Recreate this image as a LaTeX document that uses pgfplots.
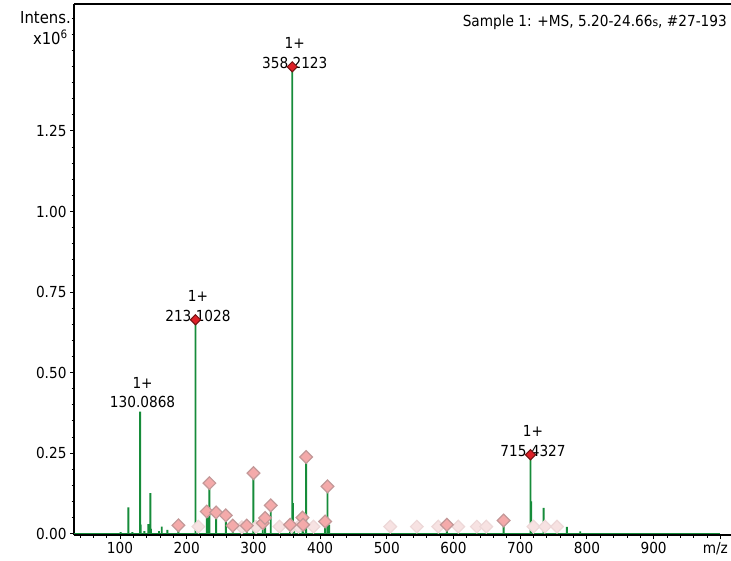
\documentclass[border=0pt]{standalone}
\usepackage{fontspec}
\setmainfont{DejaVu Sans Condensed}
\usepackage{pgfplots}
\pgfplotsset{compat=1.18}
\definecolor{pk}{RGB}{22,140,58}
\definecolor{pinkfill}{RGB}{244,170,170}
\definecolor{pinkdraw}{RGB}{195,152,152}
\definecolor{palefill}{RGB}{247,226,226}
\definecolor{paledraw}{RGB}{237,216,216}
\definecolor{redfill}{RGB}{222,32,40}
\definecolor{reddraw}{RGB}{115,20,20}
\newcommand{\fs}{\fontsize{15.2}{18}\selectfont}
\newcommand{\fl}{\fontsize{16.5}{19}\selectfont}
\begin{document}
\begin{tikzpicture}[x=1pt,y=1pt]
\begin{axis}[
  at={(74pt,25pt)}, anchor=south west,
  scale only axis, width=657pt, height=531pt,
  xmin=31, xmax=1016, ymin=-0.004, ymax=1.644,
  axis x line=bottom, axis y line=left,
  x axis line style={-, line width=1.2pt},
  y axis line style={-, line width=1.2pt},
  tick align=outside,
  major tick length=4pt, minor tick length=2.5pt,
  every tick/.style={black, line width=0.9pt},
  xtick={100,200,...,900},
  xticklabels={100,200,300,400,500,600,700,800,900},
  extra x ticks={1000},
  extra x tick labels={m/z},
  extra x tick style={xticklabel style={xshift=-5pt}},
  minor xtick={40,60,...,1000},
  ytick={0,0.25,0.5,0.75,1,1.25},
  yticklabels={0.00,0.25,0.50,0.75,1.00,1.25},
  minor ytick={0.05,0.1,0.15,0.2,0.3,0.35,0.4,0.45,0.55,0.6,0.65,0.7,0.8,0.85,0.9,0.95,1.05,1.1,1.15,1.2,1.3,1.35,1.4,1.45,1.5,1.55,1.6},
  ticklabel style={font=\fs},
  /pgf/number format/assume math mode=true,
  clip=false,
]
% baseline
\addplot[draw=pk, line width=1.2pt, mark=none] coordinates {(31,0) (1000,0)};
% peaks
\addplot[ybar, bar width=1.9pt, bar shift=0pt, fill=pk, draw=none, mark=none] coordinates {
(101,0.005) (112.5,0.082) (118.5,0.005) (130.09,0.379) (131.1,0.028)
(136.5,0.008) (142.5,0.030) (145.5,0.126) (146.5,0.015) (158.5,0.008)
(162.5,0.022) (171,0.012) (187.5,0.026)
(213.10,0.664) (230,0.069) (232.5,0.050) (234,0.157) (244,0.066)
(258.6,0.057) (269,0.025) (290,0.025) (300,0.188) (314,0.033)
(317.5,0.049) (326,0.088) (355,0.028) (358.21,1.449) (359.3,0.095)
(361,0.020) (373.5,0.050) (374.5,0.028) (379,0.238) (407.5,0.038)
(411,0.147) (413.5,0.028) (590,0.028) (675,0.041)
(715.43,0.245) (716.5,0.100) (735,0.080) (770,0.021) (790,0.007)
};
% peak labels
\node[font=\fs, anchor=base, inner sep=0pt, xshift=2.5pt, yshift=3.7pt] at (axis cs:130.0868,0.379) {130.0868};
\node[font=\fs, anchor=base, inner sep=0pt, xshift=2.5pt, yshift=23.5pt] at (axis cs:130.0868,0.379) {1+};
\node[font=\fs, anchor=base, inner sep=0pt, xshift=2.5pt, yshift=-1.5pt] at (axis cs:213.1028,0.664) {213.1028};
\node[font=\fs, anchor=base, inner sep=0pt, xshift=2.5pt, yshift=18.5pt] at (axis cs:213.1028,0.664) {1+};
\node[font=\fs, anchor=base, inner sep=0pt, xshift=2.5pt, yshift=-1.5pt] at (axis cs:358.2123,1.449) {358.2123};
\node[font=\fs, anchor=base, inner sep=0pt, xshift=2.5pt, yshift=18.5pt] at (axis cs:358.2123,1.449) {1+};
\node[font=\fs, anchor=base, inner sep=0pt, xshift=2.5pt, yshift=-1.5pt] at (axis cs:715.4327,0.245) {715.4327};
\node[font=\fs, anchor=base, inner sep=0pt, xshift=2.5pt, yshift=18.5pt] at (axis cs:715.4327,0.245) {1+};
% pale diamonds
\addplot[only marks, mark=square*, mark size=4.5pt,
  mark options={rotate=45, fill=palefill, draw=paledraw, line width=1.2pt}] coordinates {
(217.5,0.022) (282.6,0.020) (304,0.021) (339,0.022) (357.5,0.022) (367.5,0.022)
(390,0.022) (505,0.022) (545,0.022) (577,0.022) (607,0.022) (635,0.022)
(649,0.022) (720,0.022) (737,0.022) (755,0.022)
};
% pink diamonds
\addplot[only marks, mark=square*, mark size=4.5pt,
  mark options={rotate=45, fill=pinkfill, draw=pinkdraw, line width=1.2pt}] coordinates {
(187.5,0.026) (230,0.069) (234,0.157) (244,0.066) (258.6,0.057) (269,0.025)
(290,0.025) (300,0.188) (314,0.033) (317.5,0.049) (326,0.088) (355,0.028)
(373.5,0.050) (374.5,0.028) (379,0.238) (407.5,0.038) (411,0.147)
(590,0.028) (675,0.041)
};
% red diamonds
\addplot[only marks, mark=square*, mark size=3.6pt,
  mark options={rotate=45, fill=redfill, draw=reddraw, line width=1pt}] coordinates {
(213.10,0.664) (358.21,1.449) (715.43,0.245)
};
\draw[line width=1.2pt] (rel axis cs:0,1) -- (rel axis cs:1,1);
\end{axis}
\node[font=\fs, anchor=base east, inner sep=0pt] at (727pt,533pt) {Sample 1: +MS, 5.20-24.66{\fontsize{12}{14}\selectfont s}, \#27-193};
\node[font=\fl, anchor=base east, inner sep=0pt] at (71pt,536pt) {Intens.};
\node[font=\fl, anchor=base east, inner sep=0pt] at (68pt,515pt) {x10\textsuperscript{6}};
\pgfresetboundingbox
\useasboundingbox (0,0) rectangle (731pt,560pt);
\end{tikzpicture}
\end{document}
